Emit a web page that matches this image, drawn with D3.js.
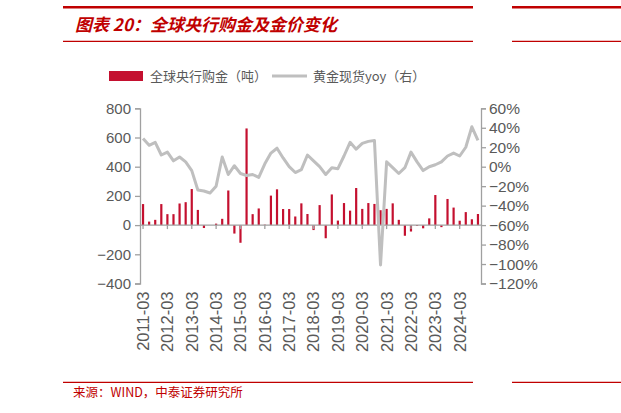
<!DOCTYPE html>
<html>
<head>
<meta charset="utf-8">
<script src="https://cdn.jsdelivr.net/npm/d3@7"></script>
<style>
  body { margin: 0; background: #fff; }
  svg { display: block; }
  .tick text { font-family: "Liberation Sans", Arial, sans-serif; fill: #595959; }
</style>
</head>
<body>
<div id="chart"></div>
<script>
// quarterly categories 2011-03 .. 2024-12
const categories = [
  "2011-03","2011-06","2011-09","2011-12","2012-03","2012-06","2012-09","2012-12",
  "2013-03","2013-06","2013-09","2013-12","2014-03","2014-06","2014-09","2014-12",
  "2015-03","2015-06","2015-09","2015-12","2016-03","2016-06","2016-09","2016-12",
  "2017-03","2017-06","2017-09","2017-12","2018-03","2018-06","2018-09","2018-12",
  "2019-03","2019-06","2019-09","2019-12","2020-03","2020-06","2020-09","2020-12",
  "2021-03","2021-06","2021-09","2021-12","2022-03","2022-06","2022-09","2022-12",
  "2023-03","2023-06","2023-09","2023-12","2024-03","2024-06","2024-09","2024-12"
];

// central bank gold purchases (tonnes)
const cbPurchases = [
  144, 24, 36, 144, 75, 75, 148, 157,
  247, 104, -20, 0, 10, 43, 237, -58,
  -121, 662, 75, 114, 3, 202, 245, 110,
  110, 59, 149, 76, -34, 137, -90, 210,
  31, 151, 99, 254, 111, 151, 145, 102,
  111, 149, 36, -73, -44, -6, -22, 46,
  206, -14, 179, 120, 30, 89, 40, 76
];

// spot gold yoy (right axis, %)
const goldYoy = [
  29, 22, 25, 12, 15, 6, 10, 5,
  -4, -24, -25, -27, -20, 10, -8, 1,
  -7, -9, -8, -11, 3, 14, 19, 9,
  0, -6, -3, 12, 6, 0, -8, -1,
  -2, 11, 25, 18, 24, 26, 27, -101,
  5, -1, -7, -1, 15, 5, -4, 0,
  2, 5, 11, 14, 11, 20, 41, 27
];

const leftTicks = [-400, -200, 0, 200, 400, 600, 800];
const rightTicks = [-1.2, -1.0, -0.8, -0.6, -0.4, -0.2, 0, 0.2, 0.4, 0.6];
const xTickLabels = ["2011-03","2012-03","2013-03","2014-03","2015-03","2016-03","2017-03",
  "2018-03","2019-03","2020-03","2021-03","2022-03","2023-03","2024-03"];

const W = 621, H = 413;
const red = "#c4102f", gray = "#bfbfbf", axisColor = "#a0a0a0", textColor = "#595959";
const plot = { left: 140, right: 481, top: 108.3, bottom: 283.5 };

const svg = d3.select("#chart").append("svg")
  .attr("width", W)
  .attr("height", H);

// header / footer rules
const rules = [
  { x1: 63, x2: 473, y: 7.3, w: 2.6 },
  { x1: 63, x2: 473, y: 41.3, w: 1.2 },
  { x1: 63, x2: 473, y: 382.3, w: 1.3 },
  { x1: 512, x2: 621, y: 7.3, w: 2.6 },
  { x1: 512, x2: 621, y: 41.3, w: 1.2 },
  { x1: 512, x2: 621, y: 382.3, w: 1.3 }
];
svg.selectAll(".rule").data(rules).enter().append("line")
  .attr("x1", d => d.x1).attr("x2", d => d.x2)
  .attr("y1", d => d.y).attr("y2", d => d.y)
  .attr("stroke", "#c00000")
  .attr("stroke-width", d => d.w);

svg.append("text")
  .attr("x", 75).attr("y", 31)
  .attr("font-family", "'Noto Sans CJK SC', sans-serif")
  .attr("font-size", 17)
  .attr("font-weight", "bold")
  .attr("font-style", "italic")
  .attr("fill", "#c00000")
  .text("图表 20：全球央行购金及金价变化");

svg.append("text")
  .attr("x", 73).attr("y", 397)
  .attr("font-family", "'Noto Sans CJK SC', sans-serif")
  .attr("font-size", 12.5)
  .attr("fill", "#c00000")
  .text("来源：WIND，中泰证券研究所");

// legend
svg.append("rect")
  .attr("x", 109).attr("y", 71).attr("width", 34).attr("height", 10)
  .attr("fill", red);
svg.append("text")
  .attr("x", 150).attr("y", 81)
  .attr("font-family", "'Noto Sans CJK SC', sans-serif")
  .attr("font-size", 13)
  .attr("fill", textColor)
  .text("全球央行购金（吨）");
svg.append("line")
  .attr("x1", 272).attr("x2", 307).attr("y1", 76).attr("y2", 76)
  .attr("stroke", gray).attr("stroke-width", 3);
svg.append("text")
  .attr("x", 313).attr("y", 81)
  .attr("font-family", "'Noto Sans CJK SC', sans-serif")
  .attr("font-size", 13)
  .attr("fill", textColor)
  .text("黄金现货yoy（右）");

// scales
const x = d3.scaleBand()
  .domain(categories)
  .range([plot.left, plot.right])
  .paddingInner(0.64)
  .paddingOuter(0.32);

const yL = d3.scaleLinear().domain([-400, 800]).range([plot.bottom, plot.top]);
const yR = d3.scaleLinear().domain([-1.2, 0.6]).range([plot.bottom, plot.top]);

// bars
svg.append("g").selectAll("rect")
  .data(categories.map((c, i) => ({ c: c, v: cbPurchases[i] })))
  .enter().append("rect")
  .attr("x", d => x(d.c))
  .attr("width", x.bandwidth())
  .attr("y", d => yL(Math.max(0, d.v)))
  .attr("height", d => Math.abs(yL(d.v) - yL(0)))
  .attr("fill", red);

// axes
function styleAxis(g) {
  g.selectAll("path, line").attr("stroke", axisColor).attr("stroke-width", 1.3);
}

svg.append("g")
  .attr("transform", `translate(${plot.left},0)`)
  .call(d3.axisLeft(yL).tickValues(leftTicks).tickSize(5).tickSizeOuter(5).tickPadding(4))
  .call(styleAxis)
  .call(g => g.selectAll("text").attr("font-size", 15));

svg.append("g")
  .attr("transform", `translate(${plot.right},0)`)
  .call(d3.axisRight(yR).tickValues(rightTicks).tickFormat(d3.format(".0%"))
    .tickSize(5).tickSizeOuter(5).tickPadding(3))
  .call(styleAxis)
  .call(g => g.selectAll("text").attr("font-size", 15.5));

// category axis along zero
svg.append("g")
  .attr("transform", `translate(0,${yL(0)})`)
  .call(d3.axisBottom(x).tickValues(xTickLabels).tickFormat("").tickSize(4).tickSizeOuter(0))
  .call(styleAxis)
  .call(g => g.select(".domain").attr("d", `M${plot.left},0H${plot.right}`));

// rotated category labels below the plot
svg.append("g")
  .attr("transform", `translate(0,${plot.bottom + 8})`)
  .call(d3.axisBottom(x).tickValues(xTickLabels).tickSize(0).tickPadding(0))
  .call(g => g.select(".domain").remove())
  .call(g => g.selectAll("text")
    .attr("font-size", 16.5)
    .attr("text-anchor", "end")
    .attr("transform", "rotate(-90)")
    .attr("x", 0).attr("y", 0)
    .attr("dy", "0.36em"));

// gold yoy line
const line = d3.line()
  .x(d => x(d.c) + x.bandwidth() / 2)
  .y(d => yR(d.v / 100));

svg.append("path")
  .datum(categories.map((c, i) => ({ c: c, v: goldYoy[i] })))
  .attr("d", line)
  .attr("fill", "none")
  .attr("stroke", gray)
  .attr("stroke-width", 3)
  .attr("stroke-linejoin", "round");
</script>
</body>
</html>
